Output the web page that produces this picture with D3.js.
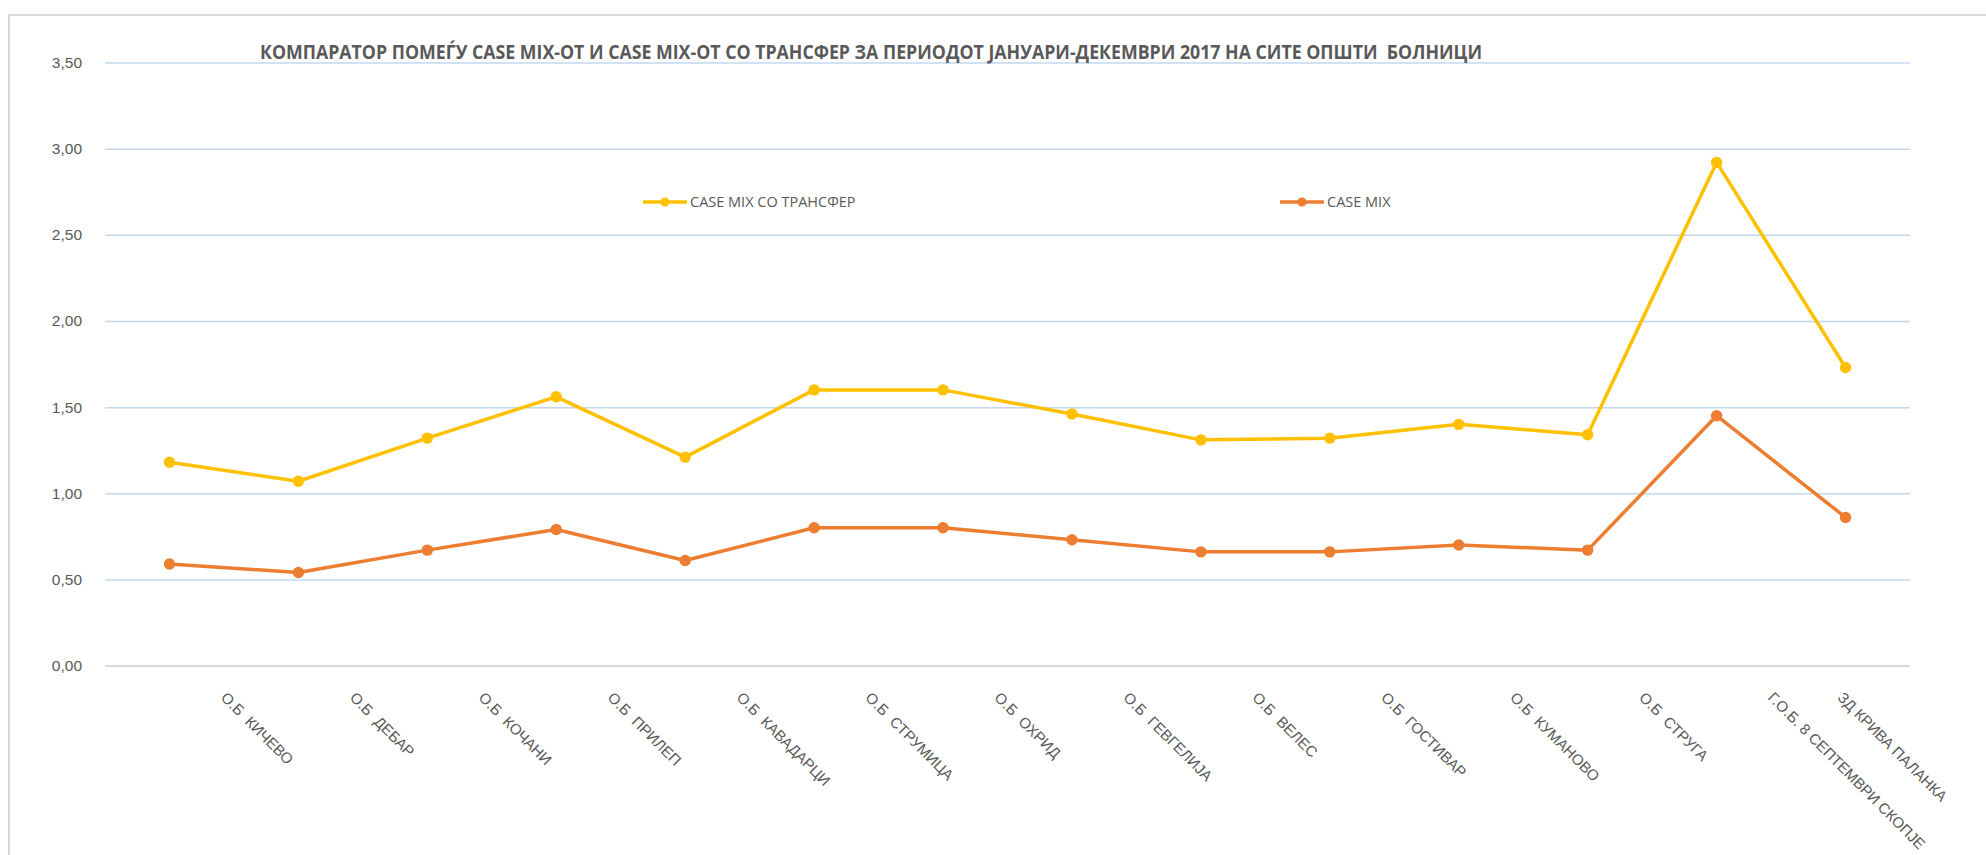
<!DOCTYPE html>
<html>
<head>
<meta charset="utf-8">
<script src="https://cdn.jsdelivr.net/npm/d3@7"></script>
<style>
  body { margin: 0; background: #fff; }
  svg { display: block; font-family: "Open Sans", "Noto Sans", sans-serif; }
</style>
</head>
<body>
<div id="chart"></div>
<script>
const chartTitle = "КОМПАРАТОР ПОМЕЃУ CASE MIX-ОТ И CASE MIX-ОТ СО ТРАНСФЕР ЗА ПЕРИОДОТ ЈАНУАРИ-ДЕКЕМВРИ 2017 НА СИТЕ ОПШТИ  БОЛНИЦИ"

const hospitals = ["О.Б  КИЧЕВО", "О.Б  ДЕБАР", "О.Б  КОЧАНИ", "О.Б  ПРИЛЕП", "О.Б  КАВАДАРЦИ",
  "О.Б  СТРУМИЦА", "О.Б  ОХРИД", "О.Б  ГЕВГЕЛИЈА", "О.Б  ВЕЛЕС", "О.Б  ГОСТИВАР",
  "О.Б  КУМАНОВО", "О.Б  СТРУГА", "Г.О.Б. 8 СЕПТЕМВРИ СКОПЈЕ", "ЗД КРИВА ПАЛАНКА"]

const caseMixTransfer = [1.18, 1.07, 1.32, 1.56, 1.21, 1.60, 1.60, 1.46, 1.31, 1.32, 1.40, 1.34, 2.92, 1.73]
const caseMix = [0.59, 0.54, 0.67, 0.79, 0.61, 0.80, 0.80, 0.73, 0.66, 0.66, 0.70, 0.67, 1.45, 0.86]

const seriesNames = ["CASE MIX СО ТРАНСФЕР", "CASE MIX"]
const yTicks = [0, 0.5, 1, 1.5, 2, 2.5, 3, 3.5]

const series = [
  {name: seriesNames[0], values: caseMixTransfer, color: "#FFC000"},
  {name: seriesNames[1], values: caseMix, color: "#ED7D31"}
]

const width = 1986, height = 855
const plot = {left: 105, right: 1910, top: 62.5, bottom: 665.6}
const textColor = "#595959"

const svg = d3.select("#chart")
  .append("svg")
    .attr("width", width)
    .attr("height", height)

// chart area frame
svg.append("rect")
  .attr("x", 9).attr("y", 15)
  .attr("width", 2000).attr("height", 900)
  .attr("fill", "#fff")
  .attr("stroke", "#d9d9d9")
  .attr("stroke-width", 2)

const x = d3.scalePoint()
  .domain(hospitals)
  .range([plot.left, plot.right])
  .padding(0.5)

const y = d3.scaleLinear()
  .domain([0, 3.5])
  .range([plot.bottom, plot.top])

const mk = d3.formatLocale({decimal: ",", thousands: ".", grouping: [3], currency: ["", ""]})
const fmt = mk.format(".2f")

// y axis + gridlines
const yAxis = svg.append("g")
  .attr("transform", `translate(${plot.left},0)`)
  .call(d3.axisLeft(y)
    .tickValues(yTicks)
    .tickFormat(fmt)
    .tickSize(-(plot.right - plot.left))
    .tickPadding(23))
yAxis.select(".domain").remove()
yAxis.selectAll(".tick line")
  .attr("stroke", d => d === 0 ? "#d9d9d9" : "#c2d8ef")
  .attr("stroke-width", d => d === 0 ? 2 : 1.5)
yAxis.selectAll(".tick text")
  .attr("fill", textColor)
  .style("font-size", "15.5px")

// x axis labels
const xAxis = svg.append("g")
  .attr("transform", `translate(0,${plot.bottom})`)
  .call(d3.axisBottom(x).tickSize(0).tickSizeOuter(0))
xAxis.select(".domain").remove()
xAxis.selectAll(".tick text")
  .attr("x", 0).attr("y", 0).attr("dy", 0)
  .attr("fill", textColor)
  .style("font-size", "15px")
  .style("white-space", "pre")
  .style("text-anchor", "start")
  .attr("transform", "translate(50,33) rotate(45)")

// keep labels inside the frame on the right
xAxis.selectAll(".tick").each(function(d) {
  const t = d3.select(this).select("text")
  const len = t.node().getComputedTextLength()
  const reach = x(d) + 50 + (len + 11) * Math.SQRT1_2
  if (reach > 1948) {
    t.attr("transform", `translate(${50 - (reach - 1948)},33) rotate(45)`)
  }
})

// title
svg.append("text")
  .attr("x", 260)
  .attr("y", 59)
  .attr("fill", textColor)
  .attr("font-weight", "bold")
  .style("font-size", "19.5px")
  .style("white-space", "pre")
  .attr("textLength", 1222)
  .attr("lengthAdjust", "spacingAndGlyphs")
  .text(chartTitle)

// lines
const line = d3.line()
  .x((d, i) => x(hospitals[i]))
  .y(d => y(d))

series.forEach(s => {
  svg.append("path")
    .datum(s.values)
    .attr("fill", "none")
    .attr("stroke", s.color)
    .attr("stroke-width", 3.5)
    .attr("stroke-linejoin", "round")
    .attr("d", line)

  svg.selectAll(null)
    .data(s.values)
    .join("circle")
      .attr("cx", (d, i) => x(hospitals[i]))
      .attr("cy", d => y(d))
      .attr("r", 5.7)
      .attr("fill", s.color)
})

// legend
const legendX = [643, 1280]
series.forEach((s, i) => {
  const g = svg.append("g")
    .attr("transform", `translate(${legendX[i]},202)`)
  g.append("line")
    .attr("x1", 0).attr("x2", 44)
    .attr("stroke", s.color)
    .attr("stroke-width", 3.5)
  g.append("circle")
    .attr("cx", 22).attr("r", 4.5)
    .attr("fill", s.color)
  g.append("text")
    .attr("x", 47)
    .attr("dy", "0.35em")
    .attr("fill", textColor)
    .style("font-size", "14.5px")
    .text(s.name)
})
</script>
</body>
</html>
